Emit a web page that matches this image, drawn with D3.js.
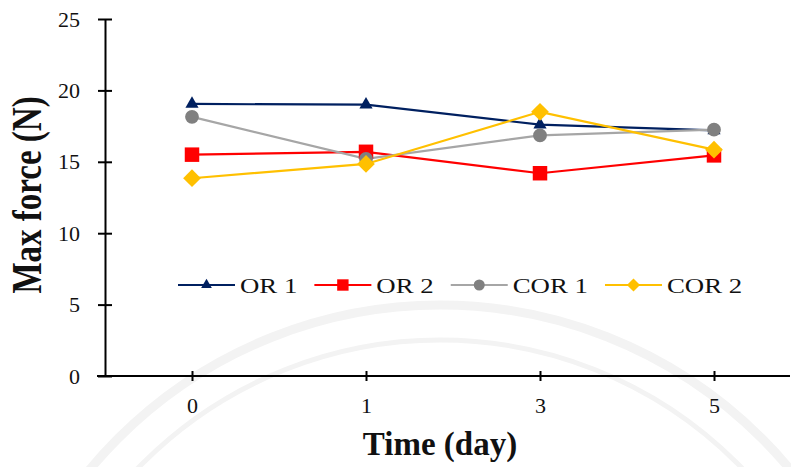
<!DOCTYPE html>
<html>
<head>
<meta charset="utf-8">
<script src="https://cdn.jsdelivr.net/npm/d3@7"></script>
<style>
  body { margin: 0; background: #fff; }
  svg { display: block; }
  text { font-family: "Liberation Serif", "Times New Roman", serif; fill: #111; }
</style>
</head>
<body>
<svg id="chart" width="791" height="467"></svg>
<script>
// ---- data ----
const days = ["0", "1", "3", "5"];
const seriesNames = ["OR 1", "OR 2", "COR 1", "COR 2"];
const or1 = [19.05, 19.0, 17.6, 17.2];
const or2 = [15.5, 15.7, 14.2, 15.45];
const cor1 = [18.15, 15.2, 16.85, 17.25];
const cor2 = [13.85, 14.85, 18.5, 15.85];
const yTicks = [0, 5, 10, 15, 20, 25];

const series = [
  { name: seriesNames[0], values: or1, line: "#002060", fill: "#002060", shape: d3.symbolTriangle, size: 75, legSize: 50 },
  { name: seriesNames[1], values: or2, line: "#FF0000", fill: "#FF0000", shape: d3.symbolSquare, size: 210, legSize: 130 },
  { name: seriesNames[2], values: cor1, line: "#A6A6A6", fill: "#808080", shape: d3.symbolCircle, size: 150, legSize: 95 },
  { name: seriesNames[3], values: cor2, line: "#FFC000", fill: "#FFC000", shape: d3.symbolDiamond2, size: 200, legSize: 110 }
];

const svg = d3.select("#chart");

// faint watermark rings
const wm = svg.append("g").attr("fill", "none").attr("stroke", "#f3f3f3");
wm.append("circle").attr("cx", 440).attr("cy", 760).attr("r", 455).attr("stroke-width", 9);
wm.append("circle").attr("cx", 440).attr("cy", 760).attr("r", 420).attr("stroke-width", 5);

const x = d3.scalePoint().domain(days).range([192, 714]);
const y = d3.scaleLinear().domain([0, 25]).range([376, 19]);

// y axis
const yAxis = d3.axisLeft(y).tickValues(yTicks).tickSizeInner(7).tickSizeOuter(0).tickPadding(18);
const gy = svg.append("g").attr("transform", "translate(105,0)").call(yAxis);
gy.select(".domain").attr("stroke", "#000").attr("stroke-width", 2);
gy.selectAll(".tick line").attr("stroke", "#000").attr("stroke-width", 2).attr("x2", -7).attr("x1", 7);
gy.selectAll(".tick text").style("font-family", "Liberation Serif, serif").style("font-size", "22px").attr("fill", "#222");

// x axis
const xAxis = d3.axisBottom(x).tickSizeInner(5).tickSizeOuter(0).tickPadding(16);
const gx = svg.append("g").attr("transform", "translate(0,376)").call(xAxis);
gx.select(".domain").attr("d", "M97,0H790").attr("stroke", "#000").attr("stroke-width", 2);
gx.selectAll(".tick line").attr("stroke", "#000").attr("stroke-width", 2).attr("y1", -5).attr("y2", 5);
gx.selectAll(".tick text").style("font-family", "Liberation Serif, serif").style("font-size", "22px").attr("fill", "#222");

// lines + markers
const line = d3.line().x((d, i) => x(days[i])).y(d => y(d));
series.forEach(s => {
  svg.append("path").datum(s.values).attr("d", line)
    .attr("fill", "none").attr("stroke", s.line).attr("stroke-width", 2.2);
});
series.forEach(s => {
  svg.append("g").selectAll("path").data(s.values).join("path")
    .attr("transform", (d, i) => `translate(${x(days[i])},${y(d)})`)
    .attr("d", d3.symbol().type(s.shape).size(s.size))
    .attr("fill", s.fill);
});

// legend
const leg = svg.append("g");
let lx = 178;
const ly = 285;
const sx = 1.22;
series.forEach(s => {
  leg.append("line").attr("x1", lx).attr("x2", lx + 57).attr("y1", ly).attr("y2", ly)
    .attr("stroke", s.line).attr("stroke-width", 2.2);
  leg.append("path").attr("transform", `translate(${lx + 28.5},${ly})`)
    .attr("d", d3.symbol().type(s.shape).size(s.legSize)).attr("fill", s.fill);
  const t = leg.append("text").attr("transform", `translate(${lx + 62},${ly + 7.5}) scale(${sx},1)`)
    .style("font-size", "22px").text(s.name);
  const w = t.node().getComputedTextLength() * sx;
  lx = lx + 62 + w + 17;
});

// axis titles
svg.append("text")
  .attr("transform", "translate(41,195) scale(1.25,1) rotate(-90)")
  .attr("text-anchor", "middle")
  .style("font-size", "33px").style("font-weight", "bold")
  .text("Max force (N)");

svg.append("text")
  .attr("x", 440).attr("y", 455)
  .attr("text-anchor", "middle")
  .style("font-size", "33px").style("font-weight", "bold")
  .text("Time (day)");
</script>
</body>
</html>
